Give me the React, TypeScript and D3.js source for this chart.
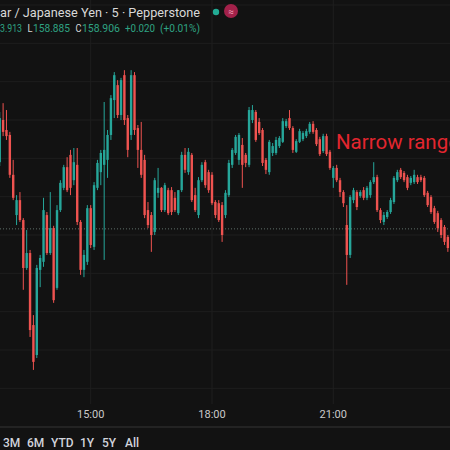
import React from "react";
import * as d3 from "d3";

// OHLC of 5-minute candles (open, high, low, close)
const candles: [number, number, number, number][] = [
  [159.090,159.221,159.080,159.205],[159.200,159.244,159.158,159.169],[159.174,159.226,159.148,159.158],
  [159.161,159.169,159.049,159.057],[159.057,159.096,158.991,158.997],[158.952,159.004,158.926,158.991],
  [158.991,159.012,158.934,158.939],[158.939,158.944,158.757,158.814],[158.814,158.913,158.809,158.853],
  [158.853,158.861,158.634,158.652],[158.665,158.691,158.548,158.569],[158.587,158.822,158.579,158.814],
  [158.809,158.848,158.764,158.840],[158.830,158.997,158.817,158.965],[158.952,158.960,158.848,158.853],
  [158.853,159.012,158.848,158.918],[158.918,158.924,158.723,158.730],[158.762,158.978,158.757,158.965],
  [158.965,159.043,158.960,159.036],[159.023,159.083,159.017,159.077],[159.077,159.103,159.012,159.017],
  [159.109,159.122,159.004,159.023],[159.043,159.127,159.030,159.090],[159.083,159.127,158.926,158.934],
  [158.934,158.939,158.796,158.809],[158.809,158.861,158.790,158.848],[158.830,158.978,158.822,158.970],
  [158.970,158.978,158.866,158.874],[158.869,159.038,158.861,159.030],[159.023,159.096,159.017,159.088],
  [159.064,159.122,159.030,159.114],[159.083,159.247,158.835,159.122],[159.096,159.174,159.049,159.161],
  [159.161,159.265,159.148,159.257],[159.252,159.325,159.205,159.317],[159.291,159.304,159.205,159.213],
  [159.213,159.310,159.200,159.304],[159.317,159.330,159.187,159.200],[159.205,159.213,159.103,159.122],
  [159.161,159.330,159.148,159.317],[159.317,159.325,159.161,159.174],[159.179,159.187,159.075,159.122],
  [159.122,159.195,159.049,159.057],[159.096,159.109,158.944,158.952],[158.965,158.986,158.918,158.926],
  [158.952,158.960,158.856,158.900],[158.908,159.049,158.900,159.043],[159.010,159.075,158.997,159.023],
  [159.023,159.025,158.960,158.965],[158.965,159.036,158.960,159.030],[159.017,159.023,158.952,158.957],
  [159.017,159.025,158.952,158.960],[158.997,159.012,158.960,158.965],[158.957,159.017,158.952,159.017],
  [159.017,159.117,159.012,159.109],[159.109,159.127,159.062,159.070],[159.064,159.127,159.057,159.117],
  [159.109,159.114,158.986,158.991],[159.004,159.023,158.960,158.965],[158.952,159.051,158.944,159.043],
  [159.043,159.090,159.038,159.083],[159.090,159.096,159.023,159.030],[159.064,159.070,159.010,159.017],
  [159.057,159.064,158.978,158.983],[158.986,158.991,158.944,158.952],[158.983,158.991,158.934,158.939],
  [158.978,158.986,158.882,158.900],[158.952,159.017,158.944,159.010],[159.004,159.096,158.999,159.088],
  [159.083,159.127,159.075,159.122],[159.114,159.161,159.109,159.156],[159.096,159.166,159.083,159.161],
  [159.135,159.153,159.023,159.083],[159.109,159.114,159.077,159.088],[159.083,159.234,159.077,159.226],
  [159.200,159.239,159.192,159.226],[159.221,159.226,159.143,159.148],[159.195,159.205,159.161,159.166],
  [159.174,159.179,159.080,159.088],[159.096,159.101,159.059,159.070],[159.064,159.148,159.057,159.143],
  [159.114,159.140,159.106,159.132],[159.114,159.156,159.109,159.148],[159.132,159.158,159.127,159.153],
  [159.143,159.205,159.140,159.197],[159.184,159.203,159.179,159.197],[159.205,159.226,159.174,159.179],
  [159.179,159.184,159.114,159.122],[159.117,159.150,159.114,159.145],[159.143,159.177,159.140,159.171],
  [159.150,159.171,159.145,159.166],[159.158,159.177,159.153,159.171],[159.169,159.195,159.164,159.190],
  [159.190,159.197,159.164,159.169],[159.174,159.179,159.132,159.137],[159.150,159.156,159.106,159.111],
  [159.119,159.164,159.114,159.158],[159.158,159.164,159.106,159.111],[159.117,159.122,159.070,159.075],
  [159.049,159.080,159.023,159.075],[159.075,159.083,159.038,159.043],[159.043,159.049,158.999,159.012],
  [159.012,159.017,158.973,158.983],[158.926,158.978,158.770,158.848],[158.848,159.004,158.840,158.999],
  [158.991,159.023,158.983,159.017],[159.012,159.017,158.965,158.973],[159.002,159.017,158.997,159.012],
  [159.017,159.025,158.991,158.997],[158.997,159.028,158.991,159.023],[159.004,159.043,158.997,159.038],
  [159.038,159.090,159.033,159.051],[159.051,159.057,158.960,158.965],[158.965,158.970,158.931,158.939],
  [158.934,158.960,158.926,158.952],[158.947,158.965,158.942,158.960],[158.960,158.997,158.955,158.991],
  [158.986,159.054,158.981,159.049],[159.043,159.070,159.038,159.064],[159.070,159.075,159.046,159.051],
  [159.062,159.067,159.038,159.043],[159.051,159.057,159.017,159.023],[159.036,159.054,159.030,159.049],
  [159.038,159.070,159.033,159.057],[159.051,159.057,159.033,159.038],[159.051,159.057,159.038,159.043],
  [159.049,159.054,158.999,159.004],[159.010,159.015,158.973,158.978],[158.999,159.004,158.955,158.960],
  [158.970,158.976,158.929,158.934],[158.957,158.963,158.908,158.918],[158.939,158.944,158.892,158.900],
  [158.921,158.926,158.874,158.882],[158.895,158.900,158.856,158.866],
];

const firstCandle = new Date(2024, 5, 26, 12, 45);
const stepMinutes = 5;
const timeTicks = [new Date(2024, 5, 26, 15, 0), new Date(2024, 5, 26, 18, 0), new Date(2024, 5, 26, 21, 0)];
const gridPrices = [158.5, 158.6, 158.7, 158.8, 158.9, 159.0, 159.1, 159.2, 159.3, 159.4, 159.5];
const priceLine = 158.916;

const titleText = "ar / Japanese Yen · 5 · Pepperstone";
const legendParts = [
  { t: "3.913", c: "green" },
  { t: "L", c: "label" },
  { t: "158.885", c: "green" },
  { t: "C", c: "label" },
  { t: "158.906", c: "green" },
  { t: "+0.020", c: "green" },
  { t: "(+0.01%)", c: "green" },
];
const legendX = [0, 27.5, 33, 75.5, 82, 125, 160];
const legendW = [22, 5, 37, 6, 38, 30, 40];
const rangeButtons = ["3M", "6M", "YTD", "1Y", "5Y", "All"];
const rangeX = [3, 27, 51, 80, 102, 125];
const annotation = "Narrow range";

const UP = "#26a69a";
const DOWN = "#ef5350";
const BG = "#121212";
const GRID = "#1e1e1e";
const FONT = "Roboto, 'Liberation Sans', sans-serif";

export default function App() {
  const W = 450, H = 450;
  const x = d3.scaleTime().domain([timeTicks[0], timeTicks[2]]).range([90.7, 333.3]);
  const y = d3.scaleLinear().domain([158.9, 159.0]).range([235, 196.67]);
  const fmt = d3.timeFormat("%H:%M");
  const bw = 2.4;
  const paneBottom = 404;

  return (
    <svg width={W} height={H} style={{ position: "absolute", left: 0, top: 0, background: BG }} fontFamily={FONT}>
      <rect x={0} y={0} width={W} height={H} fill={BG} />
      <clipPath id="pane"><rect x={0} y={0} width={W} height={paneBottom} /></clipPath>
      <clipPath id="full"><rect x={0} y={0} width={W} height={H} /></clipPath>
      <g clipPath="url(#pane)">
        {gridPrices.map((p) => (
          <line key={p} x1={0} x2={W} y1={y(p)} y2={y(p)} stroke={GRID} strokeWidth={1} />
        ))}
        {timeTicks.map((t) => (
          <line key={+t} x1={x(t)} x2={x(t)} y1={0} y2={paneBottom} stroke={GRID} strokeWidth={1} />
        ))}
        <line x1={0} x2={W} y1={y(priceLine)} y2={y(priceLine)} stroke="#5f6f6a" strokeWidth={1} strokeDasharray="1,2" />
        {candles.map(([o, h, l, c], i) => {
          const t = d3.timeMinute.offset(firstCandle, i * stepMinutes);
          const cx = x(t);
          const up = c >= o;
          const col = up ? UP : DOWN;
          const top = y(Math.max(o, c));
          const bh = Math.max(1, Math.abs(y(o) - y(c)));
          return (
            <g key={i}>
              <line x1={cx} x2={cx} y1={y(h)} y2={y(l)} stroke={col} strokeWidth={1} />
              <rect x={cx - bw / 2} y={top} width={bw} height={bh} fill={col} />
            </g>
          );
        })}
        <text x={336} y={149} fill="#e3262f" fontSize={20.5} fontFamily={FONT}>{annotation}</text>
      </g>

      {/* header */}
      <text x={0} y={17} fill="#d8d8d8" fontSize={13} textLength={200} lengthAdjust="spacingAndGlyphs">{titleText}</text>
      <circle cx={216} cy={12} r={3.2} fill="#22ab94" />
      <circle cx={231} cy={11} r={7} fill="#a3214a" />
      <text x={231} y={14.5} fill="#f0a0b8" fontSize={10} textAnchor="middle">≈</text>
      {legendParts.map((p, i) => (
        <text key={i} x={legendX[i]} y={32} fontSize={10.5} textLength={legendW[i]} lengthAdjust="spacingAndGlyphs"
          fill={p.c === "green" ? "#2fa383" : "#d8d8d8"}>{p.t}</text>
      ))}

      {/* time axis */}
      {timeTicks.map((t) => (
        <text key={+t} x={x(t)} y={418} fill="#c9c9c9" fontSize={11} textAnchor="middle">{fmt(t)}</text>
      ))}
      <line x1={0} x2={W} y1={427} y2={427} stroke="#2a2a2a" strokeWidth={1.5} />

      {/* range toolbar */}
      {rangeButtons.map((b, i) => (
        <text key={b} x={rangeX[i]} y={447} fill="#d1d4dc" fontSize={12} fontWeight={500}>{b}</text>
      ))}
    </svg>
  );
}
